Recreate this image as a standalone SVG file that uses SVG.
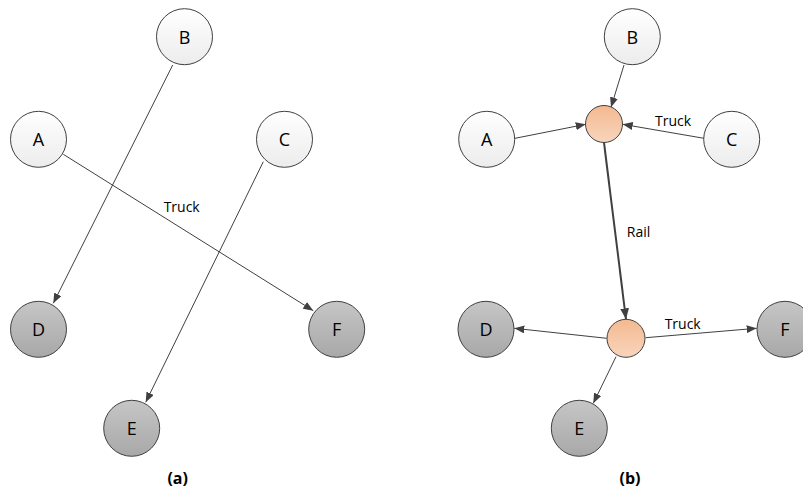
<svg xmlns="http://www.w3.org/2000/svg" width="803" height="494" viewBox="0 0 803 494">
<defs>
<linearGradient id="gw" x1="0" y1="0" x2="0" y2="1"><stop offset="0" stop-color="#ffffff"/><stop offset="1" stop-color="#ececec"/></linearGradient>
<linearGradient id="gg" x1="0" y1="0" x2="0" y2="1"><stop offset="0" stop-color="#c6c6c6"/><stop offset="1" stop-color="#a8a8a8"/></linearGradient>
<linearGradient id="gh" x1="0" y1="0" x2="0" y2="1"><stop offset="0" stop-color="#f4b990"/><stop offset="1" stop-color="#f8d5bd"/></linearGradient>
<marker id="ar" viewBox="0 0 10 8" refX="10" refY="4" markerWidth="10" markerHeight="8" markerUnits="userSpaceOnUse" orient="auto"><path d="M0,0 L10,4 L0,8 z" fill="#404040"/></marker>
<marker id="arb" viewBox="0 0 10 8" refX="10" refY="4" markerWidth="11" markerHeight="9" markerUnits="userSpaceOnUse" orient="auto"><path d="M0,0 L10,4 L0,8 z" fill="#404040"/></marker>
</defs>
<style>
.w{fill:url(#gw);stroke:#404040;stroke-width:1}
.g{fill:url(#gg);stroke:#404040;stroke-width:1}
.h{fill:url(#gh);stroke:#404040;stroke-width:1}
.t{font-family:"Open Sans","Liberation Sans",sans-serif;font-size:18px;fill:#000;text-anchor:middle;dominant-baseline:central}
.l{font-family:"Open Sans","Liberation Sans",sans-serif;font-size:14px;fill:#000;text-anchor:middle;dominant-baseline:central}
.cap{font-family:"Open Sans","Liberation Sans",sans-serif;font-size:16px;font-weight:bold;fill:#000;text-anchor:middle;dominant-baseline:central}
.e{stroke:#404040;stroke-width:1;fill:none;marker-end:url(#ar)}
.eb{stroke:#404040;stroke-width:2;fill:none;marker-end:url(#arb)}
</style>
<rect width="803" height="494" fill="#fff"/>
<g id="connectors">
<line class="e" x1="172.7" y1="65" x2="53.3" y2="303.3"/>
<line class="e" x1="63.3" y1="154.3" x2="313.3" y2="310.7"/>
<line class="e" x1="263.3" y1="161.7" x2="145.7" y2="402.3"/>
<line class="e" x1="515" y1="138.3" x2="585.7" y2="124.3"/>
<line class="e" x1="704" y1="138.3" x2="622.7" y2="124.3"/>
<line class="e" x1="624" y1="65" x2="611" y2="107.3"/>
<line class="eb" x1="604" y1="142.7" x2="626" y2="319.3"/>
<line class="e" x1="606.7" y1="338.3" x2="514.3" y2="328.3"/>
<line class="e" x1="645.7" y1="337.7" x2="756.7" y2="328.3"/>
<line class="e" x1="616" y1="356.7" x2="593.3" y2="403.3"/>
<text class="l" x="181.7" y="206">Truck</text>
<text class="l" x="673" y="120">Truck</text>
<text class="l" x="638.5" y="231">Rail</text>
<text class="l" x="682.7" y="323.5">Truck</text>
</g>
<g id="a-B"><circle class="w" cx="184.5" cy="36.7" r="28"/><text class="t" x="184.5" y="36.7">B</text></g>
<g id="a-A"><circle class="w" cx="38.5" cy="139.3" r="28"/><text class="t" x="38.5" y="139.3">A</text></g>
<g id="a-C"><circle class="w" cx="284.5" cy="139.3" r="28"/><text class="t" x="284.5" y="139.3">C</text></g>
<g id="a-D"><circle class="g" cx="38.5" cy="329.3" r="28"/><text class="t" x="38.5" y="329.3">D</text></g>
<g id="a-F"><circle class="g" cx="336.7" cy="329.3" r="28"/><text class="t" x="336.7" y="329.3">F</text></g>
<g id="a-E"><circle class="g" cx="131.7" cy="428.3" r="28"/><text class="t" x="131.7" y="428.3">E</text></g>
<g id="b-B"><circle class="w" cx="632.3" cy="36.7" r="28"/><text class="t" x="632.3" y="36.7">B</text></g>
<g id="b-A"><circle class="w" cx="486.7" cy="139.3" r="28"/><text class="t" x="486.7" y="139.3">A</text></g>
<g id="b-C"><circle class="w" cx="731.7" cy="139.3" r="28"/><text class="t" x="731.7" y="139.3">C</text></g>
<g id="b-hub1"><circle class="h" cx="604" cy="124" r="18.5"/></g>
<g id="b-hub2"><circle class="h" cx="626" cy="338.3" r="19"/></g>
<g id="b-D"><circle class="g" cx="486" cy="329.3" r="28"/><text class="t" x="486" y="329.3">D</text></g>
<g id="b-F"><circle class="g" cx="785" cy="329.3" r="28"/><text class="t" x="785" y="329.3">F</text></g>
<g id="b-E"><circle class="g" cx="579.3" cy="428.3" r="28"/><text class="t" x="579.3" y="428.3">E</text></g>
<text class="cap" x="177.7" y="478.3">(a)</text>
<text class="cap" x="630" y="478.3">(b)</text>
</svg>
